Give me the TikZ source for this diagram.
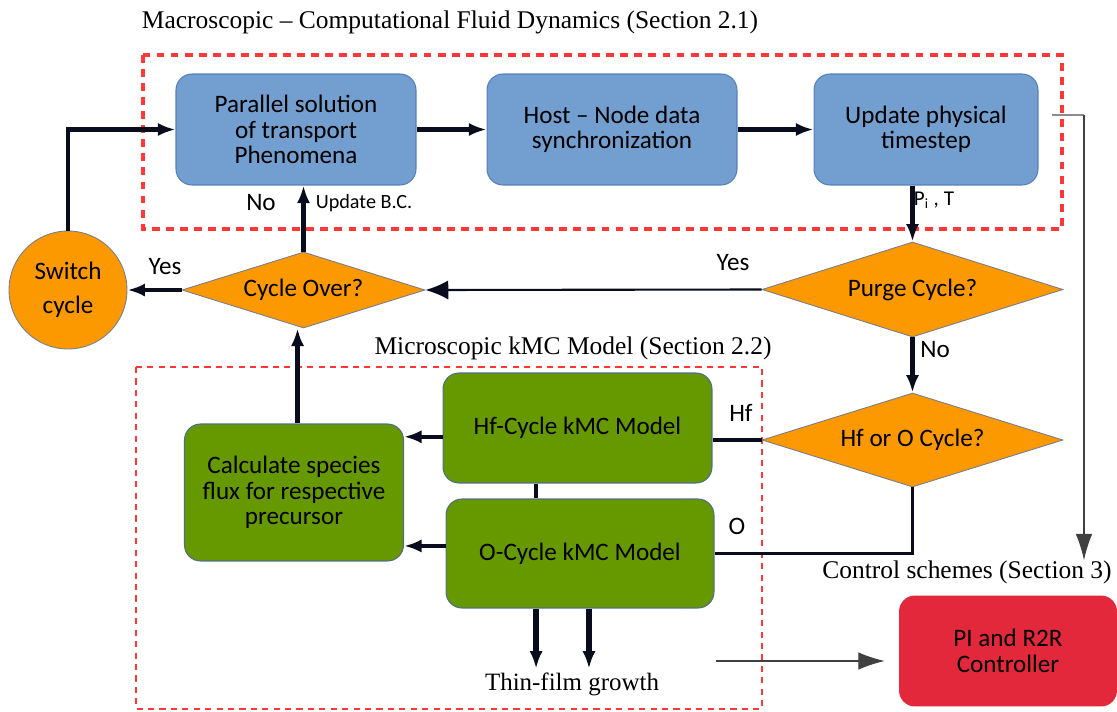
\documentclass[tikz,border=0pt]{standalone}
\usepackage{fontspec}
\setmainfont{Liberation Serif}
\newfontfamily\boxfont{Carlito}
\usetikzlibrary{shapes.geometric,arrows.meta}
\definecolor{cfdblue}{RGB}{114,159,207}
\definecolor{cfdedge}{RGB}{84,128,184}
\definecolor{qorange}{RGB}{252,153,0}
\definecolor{qedge}{RGB}{120,125,140}
\definecolor{kmcgreen}{RGB}{102,152,0}
\definecolor{kmcedge}{RGB}{80,110,135}
\definecolor{ctrlred}{RGB}{226,40,58}
\definecolor{zonered}{RGB}{255,55,55}
\definecolor{flow}{RGB}{8,12,28}
\tikzset{
  box/.style={rounded corners=0.32cm,inner sep=0pt,align=center,
    font=\boxfont\fontsize{14.3}{14.5}\selectfont},
  cfdbox/.style={box,fill=cfdblue,draw=cfdedge,line width=0.6pt,minimum height=2.22cm},
  kmcbox/.style={box,fill=kmcgreen,draw=kmcedge,line width=0.6pt},
  query/.style={diamond,shape aspect=3,inner sep=0pt,fill=qorange,draw=qedge,
    line width=0.5pt,font=\boxfont\fontsize{14.3}{14.5}\selectfont},
  zone/.style={draw=zonered,line width=2pt,dash pattern=on 4.5pt off 3.5pt},
  flowarrow/.style={draw=flow,line width=2.6pt,-{Latex[length=10pt,width=7.5pt]}},
  flowline/.style={draw=flow,line width=1.8pt},
  tag/.style={inner sep=0pt,font=\boxfont\fontsize{14.3}{14.5}\selectfont},
  caption/.style={inner sep=0pt,font=\fontsize{14.5}{16}\selectfont}
}
\begin{document}
\begin{tikzpicture}[x=0.02cm,y=-0.02cm]
  \useasboundingbox (0,0) rectangle (1117,711);
  % section frames
  \draw[zone] (143,55) rectangle (1062,229);
  \draw[zone,line width=1.5pt,dash pattern=on 3.5pt off 3pt] (136,367) rectangle (762,709);
  \node[caption] (macro) at (450,22) {Macroscopic – Computational Fluid Dynamics (Section 2.1)};
  \node[caption] (micro) at (573,348) {Microscopic kMC Model (Section 2.2)};
  \node[caption] (ctrl) at (967,572) {Control schemes (Section 3)};
  \node[caption,font=\fontsize{14.2}{16}\selectfont] (film) at (572,684) {Thin-film growth};

  % CFD loop
  \node[cfdbox,minimum width=4.8cm] (solve) at (296,129.5) {Parallel solution\\of transport\\Phenomena};
  \node[cfdbox,minimum width=5cm] (sync) at (612,129.5) {Host – Node data\\synchronization};
  \node[cfdbox,minimum width=4.48cm] (tstep) at (926,129.5) {Update physical\\timestep};
  \node[query,minimum width=6.02cm,minimum height=1.9cm] (purge) at (912.5,289.5) {Purge Cycle?};
  \node[query,minimum width=4.86cm,minimum height=1.52cm] (over) at (303.5,290) {Cycle Over?};
  \node[circle,fill=qorange,draw=qedge,line width=0.5pt,minimum size=2.36cm,inner sep=0pt,
    align=center,font=\boxfont\fontsize{14.3}{19.5}\selectfont] (switch) at (68,290) {Switch\\cycle};

  % kMC part
  \node[query,minimum width=6.02cm,minimum height=1.88cm] (which) at (912.5,440) {Hf or O Cycle?};
  \node[kmcbox,minimum width=5.38cm,minimum height=2.2cm] (hfkmc) at (577.5,428) {Hf-Cycle kMC Model};
  \node[kmcbox,minimum width=5.36cm,minimum height=2.18cm] (okmc) at (580,553.5) {O-Cycle kMC Model};
  \node[kmcbox,minimum width=4.38cm,minimum height=2.74cm] (flux) at (294,492.5) {Calculate species\\flux for respective\\precursor};
  \node[box,fill=ctrlred,minimum width=4.36cm,minimum height=2.22cm] (pictrl) at (1008,651) {PI and R2R\\Controller};

  % connectors
  \draw[flowarrow] (switch.north) |- (solve.west);
  \draw[flowarrow] (solve) -- (sync);
  \draw[flowarrow] (sync) -- (tstep);
  \draw[flowarrow] (purge.north |- tstep.south) -- (purge.north);
  \draw[draw=flow,line width=1.2pt,-{Latex[length=13pt,width=11pt]}] (purge.west) -- (over.east);
  \draw[flowarrow] (over.north) -- (over.north |- solve.south);
  \draw[flowarrow] (over.west) -- (switch.east);
  \draw[flowarrow] (purge.south) -- (which.north);
  \draw[flowline] (which.west) -- (hfkmc.east |- which.west);
  \draw[flowline] (which.south) |- (okmc.east);
  \draw[flowarrow] ([yshift=-5pt]hfkmc.west) -- ([yshift=-5pt]hfkmc.west -| flux.east);
  \draw[flowarrow] ([yshift=4.3pt]okmc.west) -- ([yshift=4.3pt]okmc.west -| flux.east);
  \draw[flowarrow] ([xshift=2pt]flux.north) -- ([xshift=2pt]flux.north |- over.south);
  \draw[flowline,line width=2.4pt] ([xshift=-23.6pt]hfkmc.south) -- ([xshift=-23.6pt]hfkmc.south |- okmc.north);
  \draw[flowarrow,line width=3pt,shorten >=2pt] ([xshift=-25pt]okmc.south) -- ([xshift=-25pt]okmc.south |- film.north);
  \draw[flowarrow,line width=3pt,shorten >=2pt] ([xshift=5.1pt]okmc.south) -- ([xshift=5.1pt]okmc.south |- film.north);

  % links to the controller
  \coordinate (fbk) at (716,661);
  \draw[draw=black!75,line width=0.6pt,-{Latex[length=15pt,width=10pt]},shorten >=8pt] (fbk) -- (fbk -| pictrl.west);
  \coordinate (tap) at (1052,115);
  \coordinate (turn) at (1084,115);
  \draw[draw=black!45,line width=1pt] (tap) -- (turn);
  \draw[draw=black!75,line width=0.6pt,-{Latex[length=15pt,width=9.5pt]}] (turn) -- (turn |- ctrl.north);

  % labels
  \node[tag] (yesl) at (165,267) {Yes};
  \node[tag] (yesr) at (733,263) {Yes};
  \node[tag] (nol) at (261,203) {No};
  \node[tag,font=\boxfont\fontsize{11.5}{12}\selectfont] (bc) at (364,203) {Update B.C.};
  \node[tag,font=\boxfont\fontsize{12}{13}\selectfont] (pt) at (934,200) {P\textsubscript{i} , T};
  \node[tag] (nod) at (935,350) {No};
  \node[tag] (hfl) at (741,413) {Hf};
  \node[tag] (ol) at (737,526) {O};
\end{tikzpicture}
\end{document}
